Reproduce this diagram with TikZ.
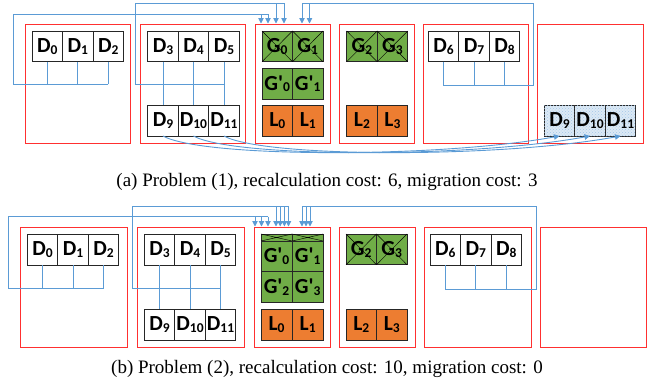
\documentclass[tikz,border=0pt]{standalone}
\usepackage{fontspec}
\setmainfont{Liberation Serif}
\newfontfamily\cellfont{Carlito}
\usetikzlibrary{arrows.meta,patterns}
\definecolor{gfill}{HTML}{70AD47}
\definecolor{ofill}{HTML}{ED7D31}
\definecolor{lnk}{HTML}{5B9BD5}
\definecolor{redb}{HTML}{FF3030}
\definecolor{hfill}{HTML}{DCE9F5}
\newcommand\sbx[1]{\raisebox{-1.5pt}{\fontsize{13.5}{13.5}\selectfont #1}}
\tikzset{
  cell/.style={draw=black!85, line width=0.8pt, minimum width=30.5pt, minimum height=30.7pt,
    inner sep=0pt, outer sep=0pt, anchor=north west, fill=white,
    font=\cellfont\bfseries\fontsize{21.5}{22}\selectfont},
  gcell/.style={fill=gfill},
  lcell/.style={fill=ofill},
  hcell/.style={fill=hfill, postaction={pattern=crosshatch dots, pattern color=lnk!55}},
  gstrip/.style={draw=black!85, line width=0.8pt, fill=gfill, minimum width=31.1pt, minimum height=7pt,
    inner sep=0pt, outer sep=0pt, anchor=north west},
  xline/.style={draw=black, line width=0.45pt},
  rbox/.style={draw=redb, line width=1pt, inner sep=0pt, outer sep=0pt, anchor=north west},
  link/.style={draw=lnk, line width=0.9pt},
  arr/.style={link, -{Triangle[length=5.5pt,width=5.5pt]}},
  caption/.style={font=\fontsize{19}{22}\selectfont, inner sep=0pt}
}
\begin{document}
\begin{tikzpicture}[x=1pt,y=-1pt]
\useasboundingbox (0,0) rectangle (654,383);
% ================= panel (a) =================
\node[rbox, minimum width=105pt, minimum height=119pt] (Ba1) at (25,24) {};
\node[rbox, minimum width=105.6pt, minimum height=119pt] (Ba2) at (140,24) {};
\node[rbox, minimum width=74.5pt, minimum height=119pt] (Ba3) at (255.5,24) {};
\node[rbox, minimum width=74.5pt, minimum height=119pt] (Ba4) at (339.5,24) {};
\node[rbox, minimum width=105pt, minimum height=119pt] (Ba5) at (423,24) {};
\node[rbox, minimum width=106pt, minimum height=119pt] (Ba6) at (537,24) {};

\node[cell] (aD0) at (32,31) {D\sbx{0}};
\node[cell] (aD1) at (aD0.north east) {D\sbx{1}};
\node[cell] (aD2) at (aD1.north east) {D\sbx{2}};

\node[cell] (aD3) at (147.7,31) {D\sbx{3}};
\node[cell] (aD4) at (aD3.north east) {D\sbx{4}};
\node[cell] (aD5) at (aD4.north east) {D\sbx{5}};
\node[cell] (aD9) at (147.7,105.3) {D\sbx{9}};
\node[cell] (aD10) at (aD9.north east) {D\sbx{10}};
\node[cell] (aD11) at (aD10.north east) {D\sbx{11}};

\node[cell,gcell] (aG0) at (262,31) {G\sbx{0}};
\node[cell,gcell] (aG1) at (aG0.north east) {G\sbx{1}};
\node[cell,gcell] (aGp0) at (262,68.5) {G'\sbx{0}};
\node[cell,gcell] (aGp1) at (aGp0.north east) {G'\sbx{1}};
\node[cell,lcell] (aL0) at (262,105.3) {L\sbx{0}};
\node[cell,lcell] (aL1) at (aL0.north east) {L\sbx{1}};

\node[cell,gcell] (aG2) at (346.7,31) {G\sbx{2}};
\node[cell,gcell] (aG3) at (aG2.north east) {G\sbx{3}};
\node[cell,lcell] (aL2) at (346.7,105.3) {L\sbx{2}};
\node[cell,lcell] (aL3) at (aL2.north east) {L\sbx{3}};

\node[cell] (aD6) at (428.3,31) {D\sbx{6}};
\node[cell] (aD7) at (aD6.north east) {D\sbx{7}};
\node[cell] (aD8) at (aD7.north east) {D\sbx{8}};

\node[cell,hcell] (aN9) at (544.3,105.3) {D\sbx{9}};
\node[cell,hcell] (aN10) at (aN9.north east) {D\sbx{10}};
\node[cell,hcell] (aN11) at (aN10.north east) {D\sbx{11}};

\foreach \c in {aG0,aG1,aG2,aG3}
  \draw[xline] (\c.north west) -- (\c.south east) (\c.north east) -- (\c.south west);

% connectors (a)
\coordinate (aY0) at (0,84);
\coordinate (aY6) at (0,85.7);
\foreach \c in {aD0,aD1,aD2} \draw[link] (\c.south) -- (\c.south |- aY0);
\draw[link] (aD2.south |- aY0) -- (13,84) -- (13,14) -- (268,14);
\foreach \x in {261,268} \draw[arr] (\x,14) -- (\x,23.5);

\draw[link] (aD3.south) -- (aD9.north);
\draw[link] (aD4.south) -- (aD10.north);
\draw[link] (aD5.south) -- (aD11.north);
\draw[link] (aD5.south |- aY0) -- (135,84) -- (135,3.3) -- (284,3.3);
\foreach \x in {276,284} \draw[arr] (\x,3.3) -- (\x,23.5);

\foreach \c in {aD6,aD7,aD8} \draw[link] (\c.south) -- (\c.south |- aY6);
\draw[link] (aD6.south |- aY6) -- (533.3,85.7) -- (533.3,3.3) -- (302,3.3);
\foreach \x in {302,309.5} \draw[arr] (\x,3.3) -- (\x,23.5);

\draw[arr] (aD9.south) .. controls +(40,22) and +(-120,22) .. (aN9.south);
\draw[arr] (aD10.south) .. controls +(40,22) and +(-120,22) .. (aN10.south);
\draw[arr] (aD11.south) .. controls +(40,22) and +(-120,22) .. (aN11.south);

\node[caption] (capA) at (327,181.5) {(a) Problem (1), recalculation cost: 6, migration cost: 3};

% ================= panel (b) =================
\node[rbox, minimum width=106.6pt, minimum height=120pt] (Bb1) at (20.7,227) {};
\node[rbox, minimum width=106.6pt, minimum height=120pt] (Bb2) at (137.7,227) {};
\node[rbox, minimum width=76pt, minimum height=120pt] (Bb3) at (254.3,227) {};
\node[rbox, minimum width=76.4pt, minimum height=120pt] (Bb4) at (339.3,227) {};
\node[rbox, minimum width=106.7pt, minimum height=120pt] (Bb5) at (424.3,227) {};
\node[rbox, minimum width=106.7pt, minimum height=120pt] (Bb6) at (540,227) {};

\node[cell] (bD0) at (27.3,234.3) {D\sbx{0}};
\node[cell] (bD1) at (bD0.north east) {D\sbx{1}};
\node[cell] (bD2) at (bD1.north east) {D\sbx{2}};

\node[cell] (bD3) at (144.3,234.3) {D\sbx{3}};
\node[cell] (bD4) at (bD3.north east) {D\sbx{4}};
\node[cell] (bD5) at (bD4.north east) {D\sbx{5}};
\node[cell] (bD9) at (144.3,309.3) {D\sbx{9}};
\node[cell] (bD10) at (bD9.north east) {D\sbx{10}};
\node[cell] (bD11) at (bD10.north east) {D\sbx{11}};

\node[gstrip] (bS0) at (261,234) {};
\node[gstrip] (bS1) at (bS0.north east) {};
\foreach \c in {bS0,bS1}
  \draw[xline] (\c.north west) -- (\c.south east) (\c.north east) -- (\c.south west);
\node[cell,gcell,minimum width=31.1pt] (bGp0) at (261,241) {G'\sbx{0}};
\node[cell,gcell,minimum width=31.1pt] (bGp1) at (bGp0.north east) {G'\sbx{1}};
\node[cell,gcell,minimum width=31.1pt] (bGp2) at (bGp0.south west) {G'\sbx{2}};
\node[cell,gcell,minimum width=31.1pt] (bGp3) at (bGp2.north east) {G'\sbx{3}};
\node[cell,lcell,minimum width=31.1pt] (bL0) at (261,309.3) {L\sbx{0}};
\node[cell,lcell,minimum width=31.1pt] (bL1) at (bL0.north east) {L\sbx{1}};

\node[cell,gcell] (bG2) at (346,234) {G\sbx{2}};
\node[cell,gcell] (bG3) at (bG2.north east) {G\sbx{3}};
\foreach \c in {bG2,bG3}
  \draw[xline] (\c.north west) -- (\c.south east) (\c.north east) -- (\c.south west);
\node[cell,lcell] (bL2) at (346,309.3) {L\sbx{2}};
\node[cell,lcell] (bL3) at (bL2.north east) {L\sbx{3}};

\node[cell] (bD6) at (430,234.3) {D\sbx{6}};
\node[cell] (bD7) at (bD6.north east) {D\sbx{7}};
\node[cell] (bD8) at (bD7.north east) {D\sbx{8}};

% connectors (b)
\coordinate (bY0) at (0,288.3);
\coordinate (bY6) at (0,289.3);
\foreach \c in {bD0,bD1,bD2} \draw[link] (\c.south) -- (\c.south |- bY0);
\draw[link] (bD2.south |- bY0) -- (8.3,288.3) -- (8.3,216.7) -- (268,216.7);
\foreach \x in {255,261.5,268} \draw[arr] (\x,216.7) -- (\x,226.5);

\draw[link] (bD3.south) -- (bD9.north);
\draw[link] (bD4.south) -- (bD10.north);
\draw[link] (bD5.south) -- (bD11.north);
\draw[link] (bD5.south |- bY0) -- (132.3,288.3) -- (132.3,206.5) -- (288.5,206.5);
\foreach \x in {276,280.2,284.4,288.5} \draw[arr] (\x,206.5) -- (\x,226.5);

\foreach \c in {bD6,bD7,bD8} \draw[link] (\c.south) -- (\c.south |- bY6);
\draw[link] (bD6.south |- bY6) -- (536.7,289.3) -- (536.7,206.5) -- (302,206.5);
\foreach \x in {302,306,310} \draw[arr] (\x,206.5) -- (\x,226.5);

\node[caption] (capB) at (327,368.5) {(b) Problem (2), recalculation cost: 10, migration cost: 0};
\end{tikzpicture}
\end{document}
